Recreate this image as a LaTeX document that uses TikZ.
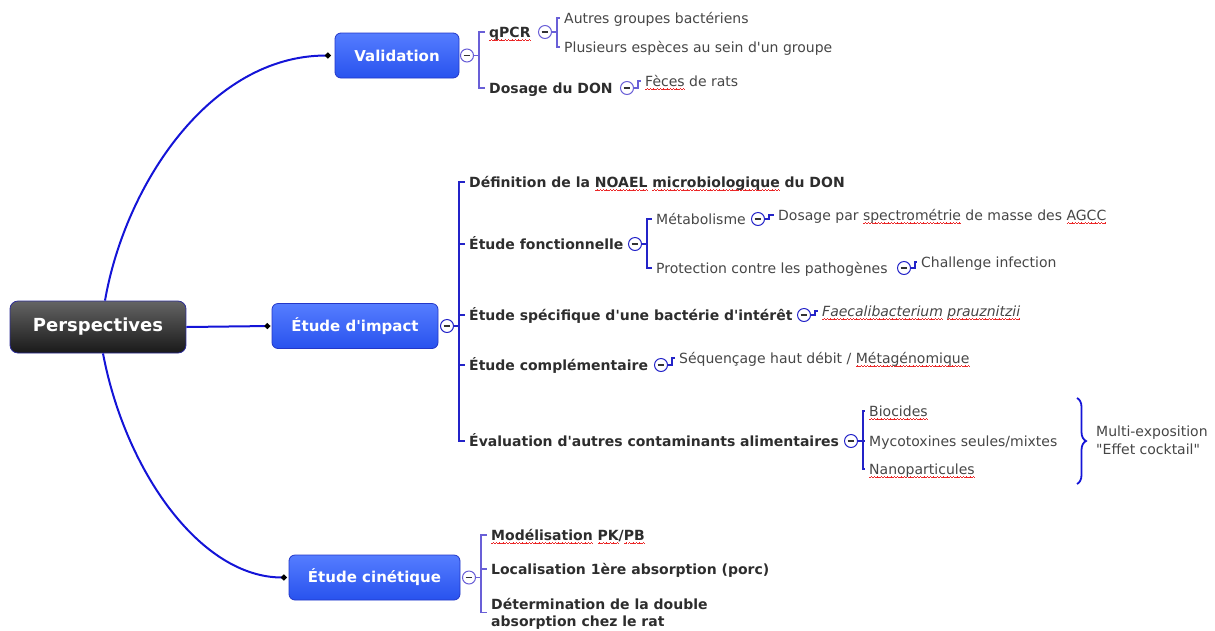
\documentclass[tikz,border=0pt]{standalone}
\usepackage{fontspec}
\newfontfamily\vd{DejaVu Sans}
\usetikzlibrary{arrows.meta,decorations.pathreplacing}
\definecolor{wireblue}{RGB}{20,20,215}
\definecolor{boxtop}{RGB}{85,125,255}
\definecolor{boxbot}{RGB}{40,82,238}
\definecolor{boxedge}{RGB}{35,55,200}
\definecolor{roottop}{RGB}{100,100,100}
\definecolor{rootbot}{RGB}{25,25,25}
\definecolor{rootedge}{RGB}{45,45,150}
\definecolor{brkv}{RGB}{105,95,215}
\definecolor{brkb}{RGB}{35,35,200}
\definecolor{inkdark}{RGB}{45,45,45}
\definecolor{inkgray}{RGB}{70,70,70}
\definecolor{spellred}{RGB}{235,40,40}
% red wavy underline of the spell checker
\newcommand\wavebit{\rule[-3.4pt]{0.8pt}{0.45pt}\rule[-2.9pt]{0.8pt}{0.45pt}\rule[-2.4pt]{0.8pt}{0.45pt}\rule[-2.9pt]{0.8pt}{0.45pt}}
\newcommand\spellmark[1]{\setbox0\hbox{#1}\rlap{\textcolor{spellred}{\hbox to\wd0{\xleaders\hbox{\wavebit}\hfill}}}\box0\relax}
\begin{document}
\begin{tikzpicture}[x=1pt,y=-1pt,
    root/.style={draw=rootedge, line width=0.8, rounded corners=8, top color=roottop, bottom color=rootbot, text=white, font=\vd\bfseries\fontsize{18}{22}\selectfont, minimum width=176, minimum height=52},
    topic/.style={draw=boxedge, line width=0.8, rounded corners=6, top color=boxtop, bottom color=boxbot, text=white, font=\vd\bfseries\fontsize{15}{18}\selectfont, minimum height=45},
    sub/.style={anchor=west, inner xsep=4, inner ysep=1, text height=10.2, text depth=0, text=inkdark, font=\vd\bfseries\fontsize{14}{17}\selectfont},
    leaf/.style={sub, text=inkgray, font=\vd\fontsize{14}{17}\selectfont},
    knob/.style={circle, draw=#1, fill=white, line width=1, minimum size=13, inner sep=0, path picture={\draw[line width=1.5, black!80] ([xshift=-3.3]path picture bounding box.center) -- ([xshift=3.3]path picture bounding box.center);}},
    knob/.default=brkv,
    link/.style={draw=#1, line width=1.1},
    wire/.style={draw=wireblue, line width=2, -{Circle[black,length=5.5pt]}}]
  \useasboundingbox (0,0) rectangle (1215,630);
  \node[root] (persp) at (98,327) {Perspectives};
  \node[topic, minimum width=124] (valid) at (397,55.5) {Validation};
  \node[topic, minimum width=166] (impact) at (355,326) {Étude d'impact};
  \node[topic, minimum width=171] (kinet) at (374.5,577.5) {Étude cinétique};
  \draw[wire] ([xshift=7]persp.north) .. controls (125,185) and (210,55.5) .. ([xshift=-4]valid.west);
  \draw[wire] (persp.east) -- ([xshift=-1.5]impact.west);
  \draw[wire] ([xshift=5]persp.south) .. controls (125,470) and (200,577.5) .. ([xshift=-2]kinet.west);
  % Validation
  \node[knob] (kvalid) at (467,55.5) {};
  \node[sub] (qpcr) at (485,32) {\spellmark{qPCR}};
  \node[sub] (don) at (485,88) {Dosage du DON};
  \node[knob] (kqpcr) at (545,32) {};
  \node[leaf] (autres) at (560,18) {Autres groupes bactériens};
  \node[leaf] (plusieurs) at (560,47) {Plusieurs espèces au sein d'un groupe};
  \node[knob] (kdon) at (627,88) {};
  \node[leaf] (feces) at (641,81) {\spellmark{Fèces} de rats};
  \foreach \c in {qpcr,don} \draw[link=brkv] (kvalid.east) -- ++(5,0) |- (\c.west);
  \foreach \c in {autres,plusieurs} \draw[link=brkv] (kqpcr.east) -- ++(5,0) |- (\c.west);
  \draw[link=brkv] (kdon.east) -- ++(4,0) |- (feces.west);
  % Etude d'impact
  \node[knob=brkb] (kimpact) at (447,326) {};
  \node[sub] (def) at (465,182) {Définition de la \spellmark{NOAEL} \spellmark{microbiologique} du DON};
  \node[sub] (fonc) at (465,244) {Étude fonctionnelle};
  \node[sub] (spec) at (465,315) {Étude spécifique d'une bactérie d'intérêt};
  \node[sub] (compl) at (465,365) {Étude complémentaire};
  \node[sub] (eval) at (465,441) {Évaluation d'autres contaminants alimentaires};
  \foreach \c in {def,fonc,spec,compl,eval} \draw[link=brkb] (kimpact.east) -- ++(5,0) |- (\c.west);
  \node[knob=brkb] (kfonc) at (635,244) {};
  \node[leaf] (meta) at (652,219) {Métabolisme};
  \node[leaf] (prot) at (652,268) {Protection contre les pathogènes};
  \foreach \c in {meta,prot} \draw[link=brkb] (kfonc.east) -- ++(5,0) |- (\c.west);
  \node[knob=brkb] (kmeta) at (758,219) {};
  \node[leaf] (dosms) at (774,215) {Dosage par \spellmark{spectrométrie} de masse des \spellmark{AGCC}};
  \draw[link=brkb] (kmeta.east) -- ++(4,0) |- (dosms.west);
  \node[knob=brkb] (kprot) at (904,268) {};
  \node[leaf] (chall) at (917,262) {Challenge infection};
  \draw[link=brkb] (kprot.east) -- ++(4,0) |- (chall.west);
  \node[knob=brkb] (kspec) at (804,315) {};
  \node[leaf] (faec) at (818,311) {\itshape\spellmark{Faecalibacterium} \spellmark{prauznitzii}};
  \draw[link=brkb] (kspec.east) -- ++(4,0) |- (faec.west);
  \node[knob=brkb] (kcompl) at (661,365) {};
  \node[leaf] (seq) at (675,358) {Séquençage haut débit / \spellmark{Métagénomique}};
  \draw[link=brkb] (kcompl.east) -- ++(4,0) |- (seq.west);
  \node[knob=brkb] (keval) at (851,441) {};
  \node[leaf] (bioc) at (865,411) {\spellmark{Biocides}};
  \node[leaf] (myco) at (865,441) {Mycotoxines seules/mixtes};
  \node[leaf] (nano) at (865,469) {\spellmark{Nanoparticules}};
  \foreach \c in {bioc,myco,nano} \draw[link=brkb] (keval.east) -- ++(5,0) |- (\c.west);
  \coordinate (btop) at (1077,398);
  \coordinate (bbot) at (1077,484);
  \draw[draw=wireblue, line width=1.8, decorate, decoration={brace, amplitude=9}] (btop) -- (bbot);
  \node[leaf, align=left, text height=28.2, font=\vd\fontsize{14}{18}\selectfont] (multi) at (1092,440) {Multi-exposition\\"Effet cocktail"};
  % Etude cinetique
  \node[knob] (kkinet) at (469,577.5) {};
  \node[sub] (mod) at (487,535) {\spellmark{Modélisation} \spellmark{PK}/\spellmark{PB}};
  \node[sub] (loc) at (487,569) {Localisation 1ère absorption (porc)};
  \node[sub, align=left, text height=27.2] (det) at (487,612.5) {Détermination de la double\\absorption chez le rat};
  \foreach \c in {mod,loc,det} \draw[link=brkv] (kkinet.east) -- ++(5,0) |- (\c.west);
\end{tikzpicture}
\end{document}
